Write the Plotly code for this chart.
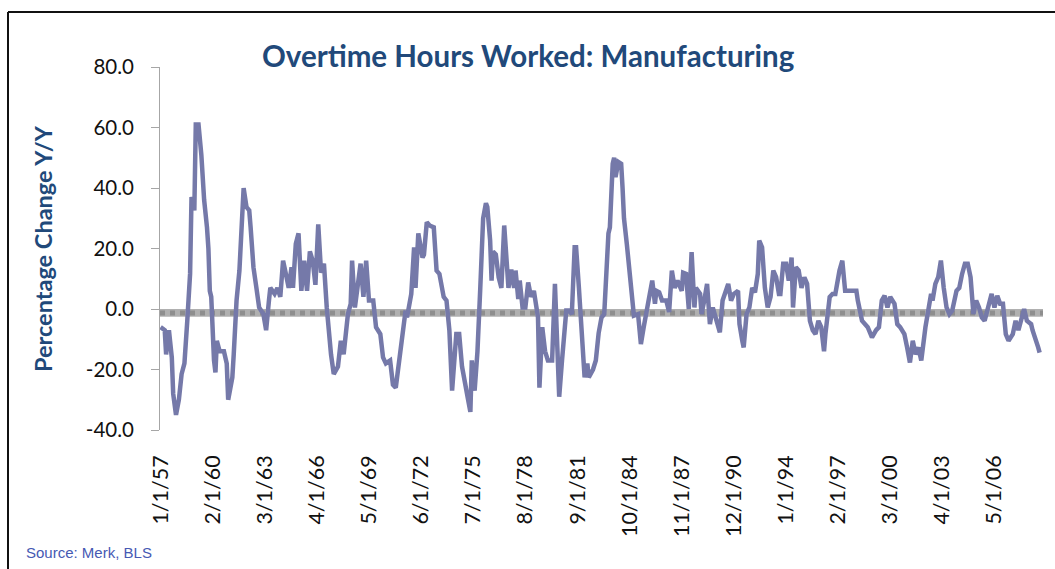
import plotly.graph_objects as go

# ---------------- data ----------------
dates = [
    "1957-01", "1957-04", "1957-05", "1957-07", "1957-09", "1957-10", "1957-12",
    "1958-02", "1958-04", "1958-06", "1958-08", "1958-10", "1958-11",
    "1959-01", "1959-02", "1959-04", "1959-06", "1959-08", "1959-10", "1959-11", "1959-12",
    "1960-01", "1960-03", "1960-04", "1960-05", "1960-07", "1960-10", "1960-12",
    "1961-01", "1961-04", "1961-05", "1961-07", "1961-09", "1961-10", "1961-12",
    "1962-02", "1962-04", "1962-05", "1962-07", "1962-09", "1962-11",
    "1963-02", "1963-04", "1963-06", "1963-07", "1963-10", "1963-12",
    "1964-02", "1964-04", "1964-06", "1964-08", "1964-10", "1964-11",
    "1965-01", "1965-03", "1965-05", "1965-07", "1965-09", "1965-11",
    "1966-01", "1966-03", "1966-05", "1966-07", "1966-09", "1966-11",
    "1967-02", "1967-04", "1967-07", "1967-09", "1967-11",
    "1968-02", "1968-04", "1968-05", "1968-07", "1968-09", "1968-11",
    "1969-01", "1969-03", "1969-05", "1969-08", "1969-10",
    "1970-01", "1970-03", "1970-05", "1970-08", "1970-10", "1970-12",
    "1971-03", "1971-05", "1971-07", "1971-08", "1971-11",
    "1972-01", "1972-02", "1972-04", "1972-07", "1972-08", "1972-10", "1972-12",
    "1973-03", "1973-05", "1973-07", "1973-10", "1973-12",
    "1974-02", "1974-04", "1974-07", "1974-09", "1974-11",
    "1975-01", "1975-03", "1975-05", "1975-06", "1975-08", "1975-10", "1975-12",
    "1976-02", "1976-04", "1976-05", "1976-07", "1976-08", "1976-09", "1976-11",
    "1977-01", "1977-03", "1977-05", "1977-07", "1977-08", "1977-10", "1977-12",
    "1978-01", "1978-03", "1978-04", "1978-06", "1978-08", "1978-10", "1978-12",
    "1979-02", "1979-05", "1979-06", "1979-08", "1979-10", "1979-12",
    "1980-03", "1980-05", "1980-07", "1980-08", "1980-10",
    "1981-01", "1981-03", "1981-05", "1981-07", "1981-08", "1981-10", "1981-12",
    "1982-02", "1982-04", "1982-05", "1982-08", "1982-10", "1982-12",
    "1983-02", "1983-04", "1983-06", "1983-07", "1983-08", "1983-10", "1983-11", "1983-12",
    "1984-02", "1984-04", "1984-05", "1984-06", "1984-08", "1984-10", "1984-12",
    "1985-01", "1985-04", "1985-06", "1985-08", "1985-10", "1985-12",
    "1986-02", "1986-04", "1986-05", "1986-07", "1986-09", "1986-12",
    "1987-02", "1987-04", "1987-06", "1987-08", "1987-11", "1987-12",
    "1988-02", "1988-04", "1988-06", "1988-08", "1988-09", "1988-12",
    "1989-01", "1989-03", "1989-05", "1989-07", "1989-09", "1989-11",
    "1990-02", "1990-04", "1990-08", "1990-10", "1990-12",
    "1991-03", "1991-04", "1991-06", "1991-07", "1991-09", "1991-11",
    "1992-01", "1992-03", "1992-05", "1992-06", "1992-08", "1992-10", "1992-12",
    "1993-02", "1993-04", "1993-06", "1993-08", "1993-09", "1993-11",
    "1994-01", "1994-03", "1994-05", "1994-06", "1994-08", "1994-10", "1994-12",
    "1995-02", "1995-04", "1995-06", "1995-08", "1995-10", "1995-12",
    "1996-02", "1996-04", "1996-05", "1996-08", "1996-10", "1996-12",
    "1997-03", "1997-05", "1997-07", "1997-10",
    "1998-01", "1998-03", "1998-04", "1998-05", "1998-07", "1998-11",
    "1999-02", "1999-05", "1999-07", "1999-09", "1999-11",
    "2000-01", "2000-03", "2000-06", "2000-08", "2000-10",
    "2001-01", "2001-03", "2001-05", "2001-07", "2001-09", "2001-11",
    "2002-01", "2002-04", "2002-06", "2002-08", "2002-09", "2002-11",
    "2003-01", "2003-03", "2003-05", "2003-07", "2003-09", "2003-11",
    "2004-02", "2004-04", "2004-06", "2004-08", "2004-10", "2004-12",
    "2005-02", "2005-04", "2005-06", "2005-08", "2005-10",
    "2006-01", "2006-03", "2006-05", "2006-07", "2006-09", "2006-11",
    "2007-01", "2007-03", "2007-06", "2007-08", "2007-10", "2007-12",
    "2008-02", "2008-04", "2008-07", "2008-08", "2008-10", "2008-12",
    "2009-01",
]

overtime_yoy = [
    -6, -7, -15, -7, -16, -28, -35,
    -30, -21.5, -18, -4, 11.6, 37,
    32.6, 61, 61, 51, 36, 27, 20, 6,
    4, -17, -21, -10.5, -14, -14, -18,
    -30, -22.6, -15, 2.8, 12.7, 25, 40,
    33.7, 32.6, 27, 13.8, 7.2, 0.5,
    -1.7, -7, 2.8, 7, 5, 7,
    4, 16, 11.6, 7, 13.8, 7,
    21.5, 25, 6, 16, 6, 19,
    16, 8, 28, 12, 15, 0.5,
    -15, -21.5, -19, -10.5, -15,
    -1.7, 1.7, 16, 0.5, 7, 15,
    4, 16, 2.8, 2.8, -6,
    -8.3, -16, -18, -17, -25, -26,
    -14, -6, -0.5, -2.8, 5,
    20.4, 7, 25, 17, 18, 28.7, 27.6,
    27, 12.7, 11.6, 4, 2.8,
    -7, -27, -8.3, -8.3, -19,
    -25, -29, -34, -17, -27, -14, 7,
    30, 35, 33.7, 22.6, 9.4, 19, 18,
    10.5, 7, 27.6, 11.6, 7, 13, 7,
    12.7, 3.3, 9.4, 0.5, 0.5, 8.8, 4,
    6, -2.8, -26, -6, -14, -17,
    -17, 8.3, -17, -29, -17,
    -0.5, -0.5, -1.7, 20.4, 20.4, 7, -10.5,
    -22.6, -18, -22.6, -20, -17, -8,
    -2.8, -1.7, 22.6, 25, 27, 48, 50, 43.6,
    48.6, 48, 40, 30, 21.5, 12.7, 2.8,
    -2.2, -1.7, -11.6, -6, -0.5, 2.8,
    9.4, 1.7, 6, 5.5, 2.8, 2.8,
    -1, 12.7, 7, 9.4, 6, 12,
    11.6, 0, 18.8, 0.5, 7, 5,
    -1.7, 2.8, 8.3, -5, 0.5, -2.8,
    -7.7, 2.8, 8.3, 2.8, 5,
    6, -5, -10.5, -12.7, -1.7, 0.5,
    7, 5.5, 11.6, 22.6, 20.4, 7, 0.5,
    4, 12.7, 10.5, 5, 5, 15,
    15, 9.4, 17, 0.5, 13.8, 12.7, 7,
    10.5, 8.3, -3.9, -7, -8.3, -3.9,
    -6, -14, -8.3, 4, 5, 5,
    12.7, 16, 6, 6,
    6, 6, 2.8, 0.5, -3.9, -6,
    -9.4, -7, -6, 2.8, 4.4,
    0.5, 4, 1.7, -5, -6,
    -8.3, -12.7, -17.7, -10.5, -15, -12.7,
    -17, -6, 0.5, 5, 2.8, 8.3,
    10.5, 16, 7, 0.5, -1.7, -0.5,
    6, 7, 11.6, 15, 15, 10.5,
    -1.7, 2.8, 0.5, -2.8, -3.9,
    1.7, 5, 0.5, 4.4, 1.7, 1.7,
    -8.3, -10.5, -8.3, -3.9, -7, -2.8,
    0, -3.9, -5, -7, -9.4, -12.7,
    -14.4,
]

tick_dates = ["1957-01-01", "1960-02-01", "1963-03-01", "1966-04-01", "1969-05-01",
              "1972-06-01", "1975-07-01", "1978-08-01", "1981-09-01", "1984-10-01",
              "1987-11-01", "1990-12-01", "1994-01-01", "1997-02-01", "2000-03-01",
              "2003-04-01", "2006-05-01"]
tick_labels = ["1/1/57", "2/1/60", "3/1/63", "4/1/66", "5/1/69", "6/1/72", "7/1/75",
               "8/1/78", "9/1/81", "10/1/84", "11/1/87", "12/1/90", "1/1/94",
               "2/1/97", "3/1/00", "4/1/03", "5/1/06"]
y_ticks = [80, 60, 40, 20, 0, -20, -40]

title_text = "Overtime Hours Worked: Manufacturing"
y_title = "Percentage Change Y/Y"
source_text = "Source: Merk, BLS"

# ---------------- layout geometry ----------------
W, H = 1055, 569
L, R, T, B = 160, 12, 67, 139
PW, PH = W - L - R, H - T - B


def px(x):
    return (x - L) / PW


def py(y):
    return (H - B - y) / PH


title_blue = "#21497A"
line_color = "#7579A9"

fig = go.Figure()
fig.add_trace(go.Scatter(
    x=dates, y=overtime_yoy, mode="lines",
    line=dict(color=line_color, width=4.5),
    hoverinfo="x+y", showlegend=False,
))

shapes = [
    # zero band (textured gray)
    dict(type="rect", xref="paper", yref="y", x0=0, x1=px(1043), y0=-2.6, y1=0,
         fillcolor="#b0b0b0", line=dict(width=0), layer="below"),
    dict(type="line", xref="paper", yref="y", x0=0, x1=px(1043), y0=-1.3, y1=-1.3,
         line=dict(color="#8e8e8e", width=5, dash="dot"), layer="below"),
    # outer frame (top & left visible)
    dict(type="line", xref="paper", yref="paper", x0=px(8), x1=px(1070), y0=py(12), y1=py(12),
         line=dict(color="#111111", width=2)),
    dict(type="line", xref="paper", yref="paper", x0=px(8), x1=px(8), y0=py(12), y1=py(600),
         line=dict(color="#111111", width=2)),
]

annotations = [
    dict(text=f"<b>{title_text}</b>", xref="paper", yref="paper", x=px(528), y=py(55),
         xanchor="center", yanchor="middle", showarrow=False,
         font=dict(family="Lato", size=29.5, color=title_blue)),
    dict(text=f"<b>{y_title}</b>", xref="paper", yref="paper", x=px(43), y=py(248),
         xanchor="center", yanchor="middle", showarrow=False, textangle=-90,
         font=dict(family="Lato", size=23.5, color=title_blue)),
    dict(text=source_text, xref="paper", yref="paper", x=px(24), y=py(552),
         xanchor="left", yanchor="middle", showarrow=False,
         font=dict(family="Liberation Sans Narrow, Liberation Sans", size=15, color="#4659B3")),
]

fig.update_layout(
    width=W, height=H,
    margin=dict(l=L, r=R, t=T, b=B, autoexpand=False),
    paper_bgcolor="white", plot_bgcolor="white",
    shapes=shapes, annotations=annotations,
    showlegend=False,
    xaxis=dict(
        type="date", range=["1956-12-20", "2009-03-15"],
        tickvals=tick_dates, ticktext=tick_labels, tickangle=-90,
        showgrid=False, zeroline=False, showline=False, ticks="",
        ticklabelstandoff=20,
        tickfont=dict(family="Lato", size=21.5, color="#111111"),
    ),
    yaxis=dict(
        range=[-40, 80], tickvals=y_ticks, ticktext=[f"{v:.1f}" for v in y_ticks],
        showgrid=False, zeroline=False, showline=True, linecolor="#a6a6a6", linewidth=1,
        ticks="outside", ticklen=8, tickcolor="#a6a6a6",
        ticklabelstandoff=13,
        tickfont=dict(family="Lato", size=20.5, color="#111111"),
    ),
)

fig.write_html(
    "out.html",
    config={"displayModeBar": False},
    post_script="document.body.style.margin='0';document.body.style.overflow='hidden';",
)
